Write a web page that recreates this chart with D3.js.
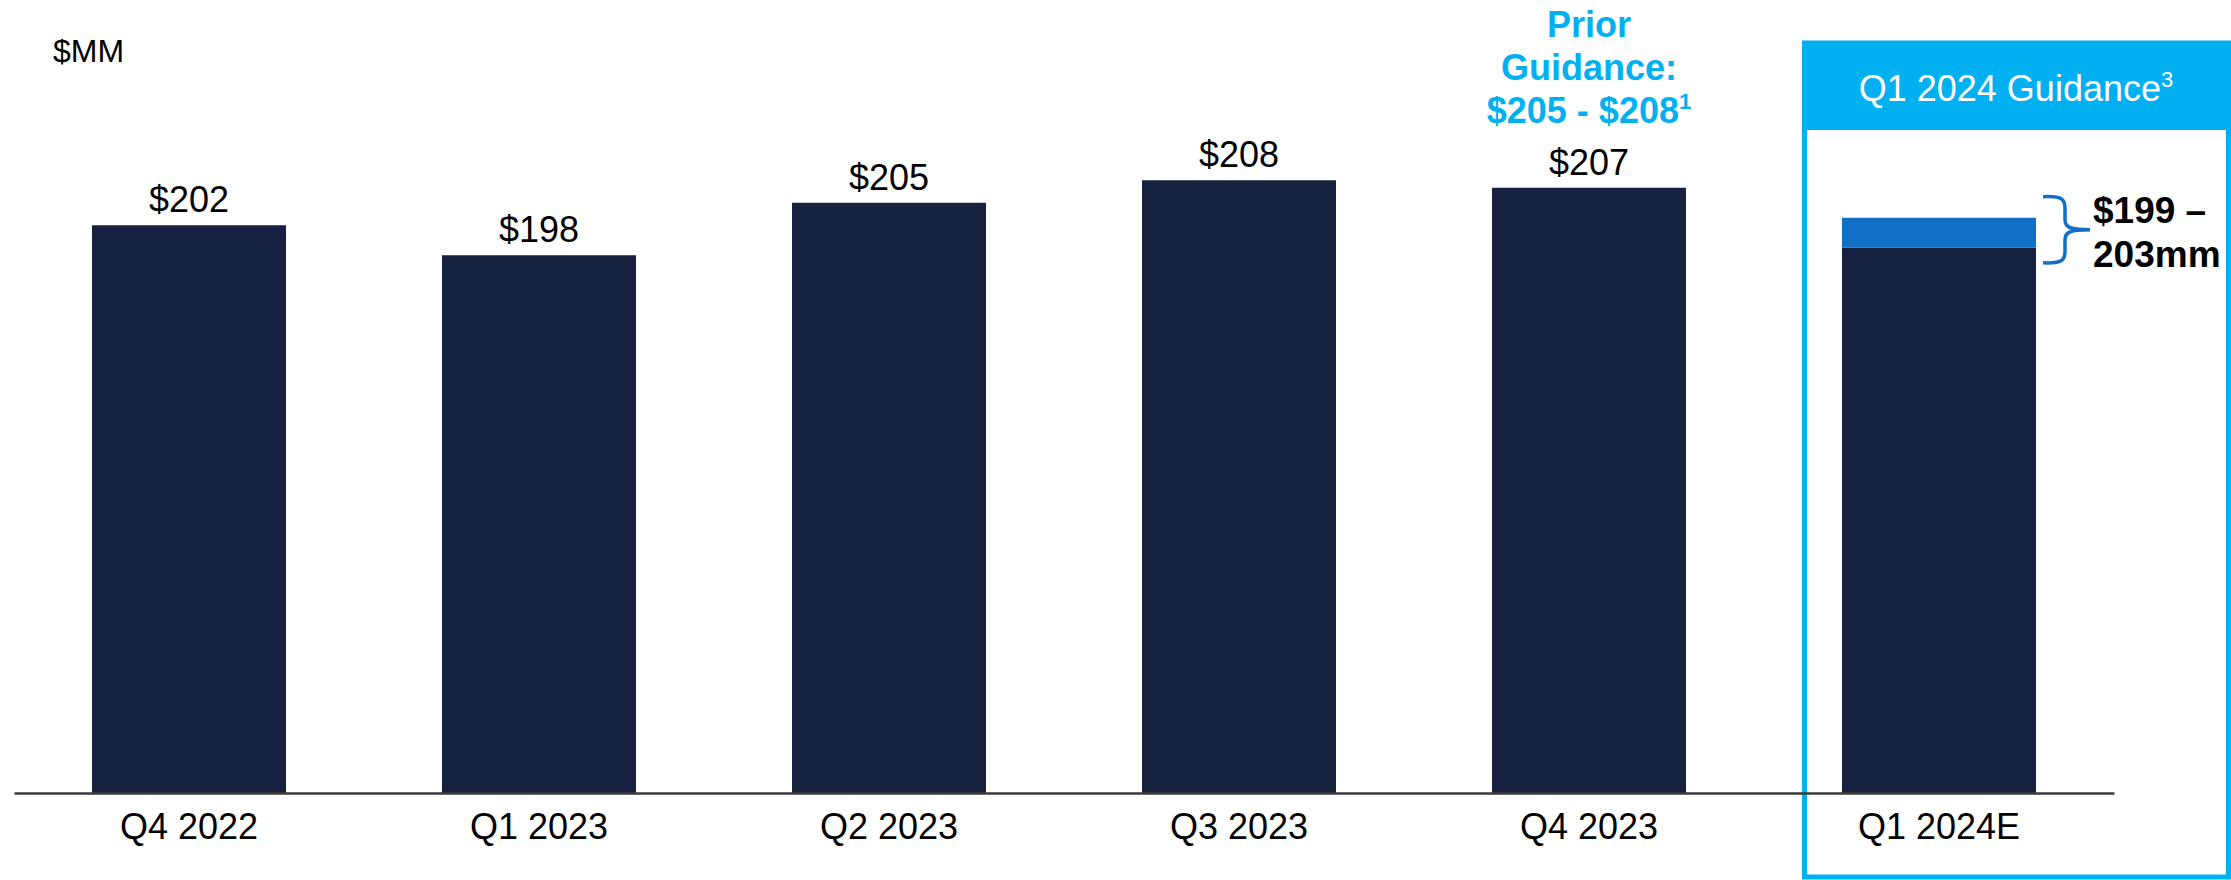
<!DOCTYPE html>
<html>
<head>
<meta charset="utf-8">
<script src="https://cdn.jsdelivr.net/npm/d3@7"></script>
<style>
  html, body { margin: 0; padding: 0; background: #fff; }
  svg { display: block; }
  text { font-family: "Liberation Sans", Arial, Helvetica, sans-serif; }
</style>
</head>
<body>
<svg id="chart" width="2231" height="880"></svg>
<script>
// ---- data ----
const categories = ["Q4 2022", "Q1 2023", "Q2 2023", "Q3 2023", "Q4 2023", "Q1 2024E"];
const actualValues = [202, 198, 205, 208, 207];
const valueLabels = ["$202", "$198", "$205", "$208", "$207"];
const guidanceLow = 199;
const guidanceHigh = 203;
const guidanceLabelLines = ["$199 \u2013", "203mm"];
const priorGuidanceLines = ["Prior", "Guidance:", "$205 - $208"];
const priorGuidanceSup = "1";
const guidanceTitle = "Q1 2024 Guidance";
const guidanceTitleSup = "3";
const unitLabel = "$MM";

// ---- colors ----
const navy = "#16223F";
const midBlue = "#1170C6";
const cyan = "#00B0F0";

const svg = d3.select("#chart");
const baseY = 793;

const x = d3.scaleBand()
  .domain(categories)
  .range([14, 2114])
  .paddingInner(0.4457)
  .paddingOuter(0.22285);

const y = d3.scaleLinear()
  .domain([126.3, 208])
  .range([baseY, 180.25]);

// ---- guidance box ----
const boxG = svg.append("g");
boxG.append("rect")
  .attr("x", 1804.5).attr("y", 43)
  .attr("width", 424).attr("height", 834)
  .attr("fill", "none").attr("stroke", cyan).attr("stroke-width", 5);
boxG.append("rect")
  .attr("x", 1802).attr("y", 41)
  .attr("width", 429).attr("height", 89)
  .attr("fill", cyan);
const titleT = boxG.append("text")
  .attr("x", 2016).attr("y", 101)
  .attr("text-anchor", "middle")
  .attr("fill", "#fff")
  .attr("font-size", 36);
titleT.append("tspan").text(guidanceTitle);
titleT.append("tspan").attr("font-size", 22).attr("dy", -14).text(guidanceTitleSup);

// ---- unit label ----
svg.append("text")
  .attr("x", 53).attr("y", 62)
  .attr("font-size", 32)
  .attr("fill", "#000")
  .text(unitLabel);

// ---- actual bars ----
const actualCats = categories.slice(0, actualValues.length);
svg.append("g").selectAll("rect")
  .data(actualValues)
  .join("rect")
  .attr("x", (d, i) => x(actualCats[i]))
  .attr("width", x.bandwidth())
  .attr("y", d => y(d))
  .attr("height", d => baseY - y(d))
  .attr("fill", navy);

svg.append("g").selectAll("text")
  .data(actualValues)
  .join("text")
  .attr("x", (d, i) => x(actualCats[i]) + x.bandwidth() / 2)
  .attr("y", d => y(d) - 13)
  .attr("text-anchor", "middle")
  .attr("font-size", 36)
  .attr("fill", "#000")
  .text((d, i) => valueLabels[i]);

// ---- guidance bar ----
const gCat = categories[categories.length - 1];
const gx = x(gCat);
svg.append("rect")
  .attr("x", gx).attr("width", x.bandwidth())
  .attr("y", y(guidanceLow)).attr("height", baseY - y(guidanceLow))
  .attr("fill", navy);
svg.append("rect")
  .attr("x", gx).attr("width", x.bandwidth())
  .attr("y", y(guidanceHigh)).attr("height", y(guidanceLow) - y(guidanceHigh))
  .attr("fill", midBlue);

// brace
const bx0 = gx + x.bandwidth() + 7;
const bTop = y(guidanceHigh) - 21;
const bBot = y(guidanceLow) + 15;
const bMid = (bTop + bBot) / 2;
const bxV = bx0 + 22;
const bxTip = bx0 + 47;
const bracePath = d3.path();
bracePath.moveTo(bx0, bTop);
bracePath.bezierCurveTo(bxV - 2, bTop - 1, bxV, bTop + 3, bxV, bTop + 12);
bracePath.lineTo(bxV, bMid - 10);
bracePath.bezierCurveTo(bxV, bMid - 2, bxV + 6, bMid, bxTip, bMid);
bracePath.moveTo(bxTip, bMid);
bracePath.bezierCurveTo(bxV + 6, bMid, bxV, bMid + 2, bxV, bMid + 10);
bracePath.lineTo(bxV, bBot - 12);
bracePath.bezierCurveTo(bxV, bBot - 3, bxV - 2, bBot + 1, bx0, bBot);
svg.append("path")
  .attr("d", bracePath.toString())
  .attr("fill", "none")
  .attr("stroke", midBlue)
  .attr("stroke-width", 3.5);

svg.append("g").selectAll("text")
  .data(guidanceLabelLines)
  .join("text")
  .attr("x", bxTip + 3)
  .attr("y", (d, i) => 223 + i * 44)
  .attr("font-size", 37)
  .attr("font-weight", "bold")
  .attr("fill", "#000")
  .text(d => d);

// ---- prior guidance annotation ----
const pcx = x(categories[4]) + x.bandwidth() / 2;
const pg = svg.append("g");
priorGuidanceLines.forEach((line, i) => {
  const t = pg.append("text")
    .attr("x", pcx)
    .attr("y", 37 + i * 43)
    .attr("text-anchor", "middle")
    .attr("font-size", 36)
    .attr("font-weight", "bold")
    .attr("fill", cyan);
  t.append("tspan").text(line);
  if (i === priorGuidanceLines.length - 1) {
    t.append("tspan").attr("font-size", 22).attr("dy", -14).text(priorGuidanceSup);
  }
});

// ---- axis ----
const axis = d3.axisBottom(x).tickSize(0).tickPadding(20);
const ax = svg.append("g")
  .attr("transform", `translate(0,${baseY})`)
  .call(axis);
ax.select(".domain").attr("stroke", "#3a3a3a").attr("stroke-width", 2.5);
ax.selectAll(".tick text")
  .attr("font-size", 36)
  .attr("fill", "#000")
  .style("font-family", "'Liberation Sans', Arial, sans-serif");
</script>
</body>
</html>
